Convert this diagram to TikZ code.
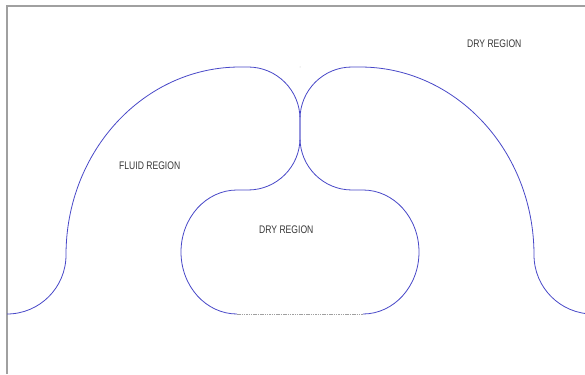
\documentclass[tikz,border=0pt]{standalone}
\usepackage{fontspec}
\newfontfamily\labfont{Liberation Sans}[FakeStretch=0.78]
\definecolor{curveblue}{RGB}{72,72,200}
\definecolor{framegray}{RGB}{160,160,160}
\definecolor{textgray}{RGB}{55,55,55}
\begin{document}
\begin{tikzpicture}[x=1pt,y=-1pt,
  curve/.style={draw=curveblue,line width=0.8pt},
  frame/.style={draw=framegray,line width=1.1pt},
  baseline/.style={draw=framegray,line width=0.8pt,dash pattern=on 1.5pt off 0.8pt},
  label/.style={font=\labfont\fontsize{11}{12}\selectfont,text=textgray,inner sep=0pt,anchor=west}]
\useasboundingbox (0,0) rectangle (585,374);
\fill[white] (0,0) rectangle (585,374);
% frame
\draw[frame] (7,374) -- (7,6) -- (585,6);
\begin{scope}
\clip (7,0) rectangle (585,374);
% main interface curve
\draw[curve] (7,314) arc[start angle=90,end angle=0,radius=59]
  arc[start angle=180,end angle=270,x radius=174,y radius=188]
  -- (248,67)
  arc[start angle=270,end angle=360,radius=52]
  -- (300,138)
  arc[start angle=0,end angle=90,radius=52]
  -- (237,190)
  arc[start angle=270,end angle=90,x radius=56,y radius=62];
\draw[curve] (363,314)
  arc[start angle=90,end angle=-90,x radius=56,y radius=62]
  -- (352,190)
  arc[start angle=90,end angle=180,radius=52]
  -- (300,119)
  arc[start angle=180,end angle=270,radius=52]
  -- (360,67)
  arc[start angle=270,end angle=360,x radius=174,y radius=188]
  arc[start angle=180,end angle=90,radius=59];
\draw[baseline] (237,314) -- (363,314);
\end{scope}
\fill[framegray!60] (300,67) circle (0.5);
\node[label] (fluid) at (119,166) {FLUID REGION};
\node[label] (drymid) at (259,230) {DRY REGION};
\node[label] (drytop) at (467,44) {DRY REGION};
\end{tikzpicture}
\end{document}
